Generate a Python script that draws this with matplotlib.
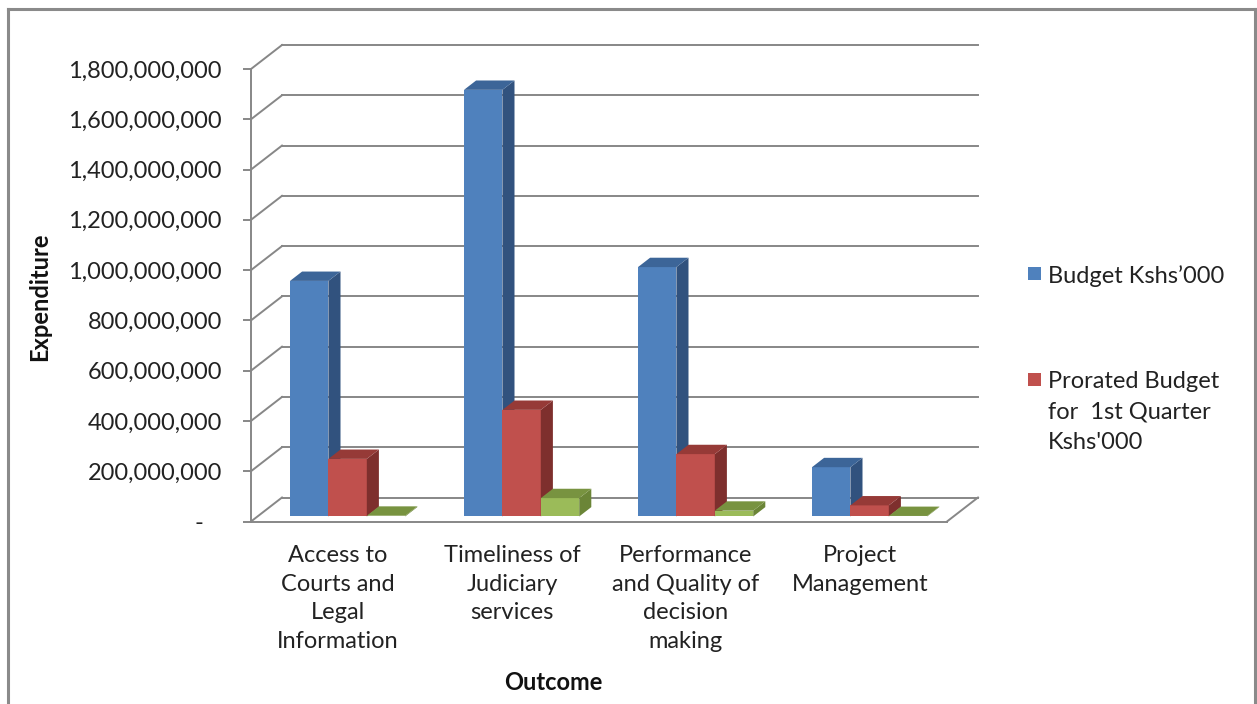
import matplotlib
matplotlib.use("Agg")
import matplotlib.pyplot as plt
from matplotlib.patches import Polygon, Rectangle
from matplotlib.lines import Line2D
import numpy as np

# ---------------- data ----------------
categories = ["Access to\nCourts and\nLegal\nInformation",
              "Timeliness of\nJudiciary\nservices",
              "Performance\nand Quality of\ndecision\nmaking",
              "Project\nManagement"]
budget = [937e6, 1697e6, 992e6, 196e6]
prorated = [229e6, 424e6, 248e6, 44e6]
actual = [3e6, 73e6, 23e6, 2e6]
series_names = ["Budget Kshs\u2019000", "Prorated Budget\nfor  1st Quarter\nKshs'000"]
yticks = [0, 200e6, 400e6, 600e6, 800e6, 1000e6, 1200e6, 1400e6, 1600e6, 1800e6]

# ---------------- styling ----------------
W, H = 1257, 704
DPI = 100
plt.rcParams['font.family'] = ['Lato', 'DejaVu Sans']
FS = 17
GRID = '#878787'
LW = 1.4

face_cols = ['#4F81BD', '#C0504D', '#9BBB59']
side_cols = ['#31527E', '#7E2F2D', '#6B8537']
top_cols = ['#3C6598', '#963A37', '#789340']

fig = plt.figure(figsize=(W / DPI, H / DPI), dpi=DPI)

# axes occupies the front plane: x 0..4 -> px 251..947, y 0..1.8e9 -> px 521.5..69
x0, x1 = 251, 947
y0, y1 = 521.5, 69
ax = fig.add_axes([x0 / W, 1 - y0 / H, (x1 - x0) / W, (y0 - y1) / H])
ax.set_xlim(0, 4)
ax.set_ylim(0, 1.8e9)
ax.patch.set_visible(False)

px_x = (x1 - x0) / 4.0            # px per category
px_y = (y0 - y1) / 1.8e9          # px per unit
DX = 31 / px_x                    # depth offset in data units
DY = 24 / px_y

# spines
for s in ['top', 'right']:
    ax.spines[s].set_visible(False)
for s in ['left', 'bottom']:
    ax.spines[s].set_color(GRID)
    ax.spines[s].set_linewidth(LW)

# back wall gridlines & diagonals
for v in yticks:
    ax.add_line(Line2D([0, DX], [v, v + DY], color=GRID, lw=LW, clip_on=False, zorder=1))
    ax.add_line(Line2D([DX, 4 + DX], [v + DY, v + DY], color=GRID, lw=LW, clip_on=False, zorder=1))
# floor right edge
ax.add_line(Line2D([4, 4 + DX], [0, DY], color=GRID, lw=LW, clip_on=False, zorder=1))

# y ticks
ax.set_yticks(yticks)
ax.set_yticklabels(["-   " if v == 0 else f"{int(v):,}" for v in yticks], fontsize=FS, color='#222222')
ax.tick_params(axis='y', length=6, width=LW, color=GRID, pad=15)

# x ticks
ax.set_xticks(np.arange(4) + 0.5)
ax.set_xticklabels(categories, fontsize=FS, color='#222222', linespacing=1.45, va='top')
ax.tick_params(axis='x', length=0, pad=17)

# bars
f0, f1 = 0.21, 0.60
w = 38.4 / px_x
start = 32.5 / px_x
series = [budget, prorated, actual]
ddx = (f1 - f0) * DX
ddy = (f1 - f0) * DY
bx = f0 * DX
by = f0 * DY
z = 3
for i in range(4):
    for j, vals in enumerate(series):
        h = vals[i]
        xl = i + start + j * w + bx
        xr = xl + w
        base = by
        top = base + h
        ax.bar(xl, h, width=w, bottom=base, align='edge', color=face_cols[j],
               edgecolor='none', zorder=z, clip_on=False)
        ax.add_patch(Polygon([(xr, base), (xr + ddx, base + ddy), (xr + ddx, top + ddy), (xr, top)],
                             closed=True, facecolor=side_cols[j], edgecolor='none', zorder=z, clip_on=False))
        ax.add_patch(Polygon([(xl, top), (xr, top), (xr + ddx, top + ddy), (xl + ddx, top + ddy)],
                             closed=True, facecolor=top_cols[j], edgecolor='none', zorder=z, clip_on=False))
        z += 1

# axis titles
fig.text(553 / W, 1 - 683 / H, "Outcome", fontsize=FS, fontweight='bold', ha='center', va='center', color='#111111')
fig.text(40 / W, 1 - 297 / H, "Expenditure", fontsize=FS, fontweight='bold', ha='center', va='center',
         rotation=90, color='#111111')

# legend (manual, Excel style)
leg_y = [273, 379]
for k in range(2):
    fig.patches.append(Rectangle((1028 / W, 1 - (leg_y[k] + 7) / H), 13 / W, 13 / H,
                                 transform=fig.transFigure, facecolor=face_cols[k], edgecolor='none'))
    fig.text(1048 / W, 1 - (leg_y[k] - 8) / H, series_names[k], fontsize=FS, ha='left', va='top',
             linespacing=1.55, color='#222222')

# chart border
for xs, ys in [([8, 1255], [9, 9]), ([8, 8], [9, 704]), ([1255, 1255], [9, 704])]:
    fig.lines.append(Line2D([x / W for x in xs], [1 - y / H for y in ys], transform=fig.transFigure,
                            color='#8A8A8A', lw=2.2))

fig.savefig("out.png", dpi=DPI)
